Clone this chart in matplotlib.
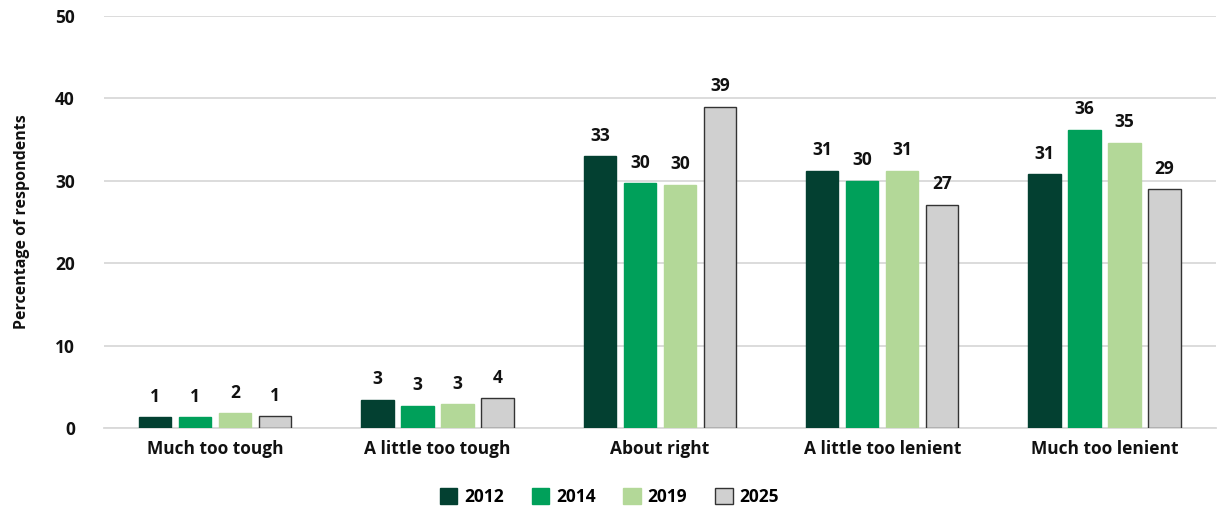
import matplotlib.pyplot as plt
import numpy as np

categories = ["Much too tough", "A little too tough", "About right",
              "A little too lenient", "Much too lenient"]
years = ["2012", "2014", "2019", "2025"]
pct_2012 = [1.3, 3.4, 33.0, 31.2, 30.8]
pct_2014 = [1.3, 2.7, 29.7, 30.0, 36.2]
pct_2019 = [1.8, 2.9, 29.5, 31.2, 34.6]
pct_2025 = [1.4, 3.6, 39.0, 27.1, 29.0]

colors = ["#034031", "#00A05A", "#B3D898", "#D0D0D0"]
edges = ["#034031", "#00A05A", "#B3D898", "#333333"]

plt.rcParams['font.family'] = ['Open Sans', 'DejaVu Sans']

fig = plt.figure(figsize=(12.19, 5.08), dpi=100)
ax = fig.add_axes([0.0853, 0.1575, 0.912, 0.811])

x = np.arange(len(categories))
width = 0.145
step = 0.18
series = [pct_2012, pct_2014, pct_2019, pct_2025]
for i, vals in enumerate(series):
    pos = x + (i - 1.5) * step
    bars = ax.bar(pos, vals, width, color=colors[i], edgecolor=edges[i],
                  linewidth=1.0, label=years[i], zorder=3)
    for b, v in zip(bars, vals):
        ax.text(b.get_x() + b.get_width() / 2, v + 1.4, f"{round(v):.0f}",
                ha='center', va='bottom', fontsize=12.5, color='#111111',
                fontweight='bold')

ax.set_xlim(-0.5, 4.5)
ax.set_ylim(0, 50)
ax.set_yticks(range(0, 51, 10))
ax.set_xticks(x)
ax.set_xticklabels(categories, fontweight='bold')
for t in ax.get_yticklabels():
    t.set_fontweight('bold')
ax.grid(axis='y', color='#d9d9d9', linewidth=1.3, zorder=0)
for s in ['top', 'right', 'left']:
    ax.spines[s].set_visible(False)
ax.spines['bottom'].set_color('#d9d9d9')
ax.spines['bottom'].set_linewidth(1.3)
ax.tick_params(axis='both', length=0, labelsize=12.5, colors='#111111')
ax.tick_params(axis='x', pad=9)
ax.tick_params(axis='y', pad=21)
ax.set_ylabel("Percentage of respondents", fontsize=11.5, labelpad=18,
              fontweight='bold', color='#111111')

leg = fig.legend(loc='lower center', bbox_to_anchor=(0.5, -0.027), ncol=4,
                 frameon=False, fontsize=12.5, handlelength=1.0,
                 handleheight=1.0, columnspacing=1.6, handletextpad=0.4)
for t in leg.get_texts():
    t.set_fontweight('bold')

fig.savefig("out.png", dpi=100)
